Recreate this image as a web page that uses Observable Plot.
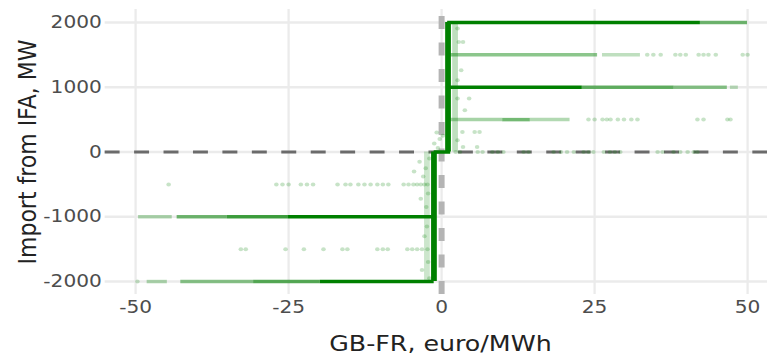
<!DOCTYPE html>
<html><head><meta charset="utf-8">
<script src="https://cdn.jsdelivr.net/npm/d3@7"></script>
<script src="https://cdn.jsdelivr.net/npm/@observablehq/plot@0.6"></script>
<style>
html,body{margin:0;padding:0;background:#fff;overflow:hidden;}
#chart{width:667px;height:356px;transform:scaleX(1.15);transform-origin:0 0;}
</style></head><body><div id="chart"></div>
<script>
// axis ticks and titles
const xTicks = [-50, -25, 0, 25, 50];
const yTicks = [-2000, -1000, 0, 1000, 2000];
const xTitle = "GB-FR, euro/MWh";
const yTitle = "Import from IFA, MW";

// dense horizontal runs of observations: flow level, spread from, spread to, relative density
const bandLevel   = [2000, 2000, 1500, 1500, 1000, 1000, 1000, 1000, 500, 500, 500, 0, -1000, -1000, -1000, -1000, -2000, -2000, -2000, -2000];
const bandFrom    = [1.0, 42.3, 1.0, 26.3, 1.0, 23, 38, 47.2, 1.0, 10, 14.5, -1.2, -49.5, -43.2, -35, -25, -48.1, -42.6, -30.7, -19.8];
const bandTo      = [42.3, 50, 25.5, 32.5, 23, 38, 46.7, 48.5, 10, 14.5, 21, 1.5, -44, -35, -25, -1.2, -44.8, -30.7, -19.8, -1.2];
const bandDensity = [1, 0.55, 0.45, 0.25, 1, 0.6, 0.45, 0.25, 0.35, 0.55, 0.3, 1, 0.3, 0.55, 0.75, 1, 0.3, 0.45, 0.65, 1];

// dense vertical runs: spread, flow from, flow to, relative density
const colSpread  = [1.05, 2.2, -1.25, -2.4];
const colFrom    = [0, 0, -2000, -2000];
const colTo      = [2000, 2000, 0, 0];
const colDensity = [1, 0.25, 1, 0.2];

// sparse observations on the flow levels
const sparseLevel = [1500, 500, 0, -500, -1500, -2000];
const sparseSpread = [
  [33.6, 34.6, 35.8, 38.2, 39, 39.9, 42, 42.8, 43.6, 44.8, 49.2, 50],
  [24, 25, 26.3, 27, 27.6, 28.8, 29.8, 31, 32, 41.8, 42.8, 46.7, 47.2],
  [2.3, 3, 5.9, 6.7, 8.3, 9.2, 10.1, 13.4, 14.2, 18.3, 19.5, 20.5, 21.6, 23.2, 24, 24.8, 26.5, 27.5, 28.3, 29.2, 35.3, 36.1, 37.9, 39, 40.2, 41.2, 41.8],
  [-44.6, -27, -26, -25, -23, -22, -21, -17, -15.7, -14.9, -13.6, -12.6, -11.6, -10.5, -9.6, -8.7, -6.2, -5.4, -4.6, -4, -3.4, -2.8, -2.3],
  [-32.8, -32, -25.5, -22.5, -19.3, -16.2, -15.4, -10.5, -9.6, -8.8, -5.6, -4.8, -4, -3.2, -2.3],
  [-49.7]
];

// scattered observations between levels
const offSpread = [2.6, 2.8, 3.5, 3.2, 2.6, 2.6, 4.5, 3.8, 3.4, 5.4, 6.2, 2.6, 3.5, 5.8, -0.8, -0.3, -1.2, 0.2, -0.6, -3.6, -2.6, -3.0, -2.2, -3.4, -2.5, -4.5, -2, -2.4, -2.8, -2.2, -3.2, -2.0];
const offFlow   = [1905, 1700, 1700, 1262, 1107, 825, 825, 644, 309, 309, 309, 181, 77, 77, 300, 200, 130, 250, 60, -150, -250, -380, -640, -720, -850, -300, -100, -1150, -1300, -1700, -1820, -1950];

const green = "#008000";

const bands = bandLevel.map((y, i) => ({y, x1: bandFrom[i], x2: bandTo[i], d: bandDensity[i]}));
const cols = colSpread.map((x, i) => ({x, y1: colFrom[i], y2: colTo[i], d: colDensity[i]}));
const pts = [];
sparseLevel.forEach((lvl, j) => sparseSpread[j].forEach(x => pts.push({x, y: lvl})));
offSpread.forEach((x, i) => pts.push({x, y: offFlow[i]}));

const chart = Plot.plot({
  width: 667, height: 356,
  marginLeft: 91, marginRight: 0, marginTop: 9, marginBottom: 62,
  style: {fontFamily: "DejaVu Sans", fontSize: "17.5px", color: "#4d4d4d", background: "#fff"},
  x: {domain: [-55, 55], range: [90.8, 676.2]},
  y: {domain: [-2200, 2200], range: [294, 9]},
  opacity: {domain: [0, 1], range: [0, 1]},
  marks: [
    Plot.ruleX(xTicks, {stroke: "#ebebeb", strokeWidth: 2}),
    Plot.ruleY(yTicks, {stroke: "#ebebeb", strokeWidth: 2.5}),
    Plot.ruleY([0], {stroke: "#6b6b6b", strokeWidth: 3, strokeDasharray: "13,12.6"}),
    Plot.ruleX([0], {y1: -2200, y2: 2200, stroke: "#b4b4b4", strokeWidth: 5.2, strokeDasharray: "13,13.5"}),
    Plot.ruleY(bands, {y: "y", x1: "x1", x2: "x2", strokeOpacity: "d", stroke: green, strokeWidth: 3.5}),
    Plot.ruleX(cols, {x: "x", y1: "y1", y2: "y2", strokeOpacity: "d", stroke: green, strokeWidth: 5}),
    Plot.dot(pts, {x: "x", y: "y", r: 2, fill: green, fillOpacity: 0.22}),
    Plot.axisX(xTicks, {tickSize: 0, tickPadding: 6, tickFormat: d => String(d), label: null}),
    Plot.axisY(yTicks, {tickSize: 0, tickPadding: 3, tickFormat: d => String(d), label: null}),
    Plot.text([xTitle], {frameAnchor: "bottom", dy: 49.5, dx: 3.5, fontSize: 22, fill: "#222", textAnchor: "middle", lineAnchor: "middle"}),
    Plot.text([yTitle], {frameAnchor: "left", rotate: -90, dx: -67, fontSize: 22, fill: "#222", textAnchor: "middle", lineAnchor: "middle"})
  ]
});
document.getElementById("chart").appendChild(chart);
</script>
</body></html>
